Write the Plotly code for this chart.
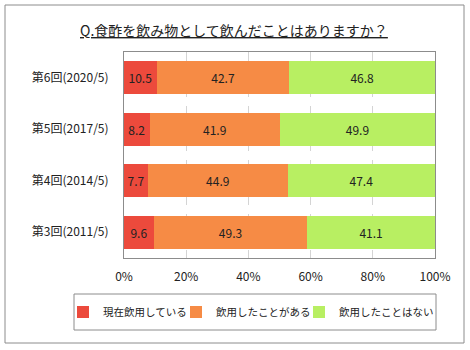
import plotly.graph_objects as go

categories = ["第3回(2011/5)", "第4回(2014/5)", "第5回(2017/5)", "第6回(2020/5)"]
series_names = ["現在飲用している", "飲用したことがある", "飲用したことはない"]
current = [9.6, 7.7, 8.2, 10.5]
past = [49.3, 44.9, 41.9, 42.7]
never = [41.1, 47.4, 49.9, 46.8]
tick_vals = [0, 20, 40, 60, 80, 100]
tick_text = ["0%", "20%", "40%", "60%", "80%", "100%"]
colors = ["#EC4A3C", "#F68B45", "#B8EF62"]

FONT = "Noto Sans CJK JP"
legend_ids = ["legend", "legend2", "legend3"]
legend_left_px = [63, 176, 299]

fig = go.Figure()
for name, vals, col, lid in zip(series_names, [current, past, never], colors, legend_ids):
    fig.add_trace(go.Bar(
        y=categories, x=vals, name=name, orientation="h",
        marker=dict(color=col, line=dict(width=0)),
        text=[f"{v:.1f}" for v in vals], textposition="inside",
        insidetextanchor="middle", constraintext="none",
        textfont=dict(color="#222222", size=12, family=FONT),
        width=0.64, legend=lid,
    ))

L, R, T, B = 124, 35, 52, 92
pw = 470 - L - R
ph = 350 - T - B

def px(x):
    return (x - L) / pw

def py(y):
    return (350 - B - y) / ph

legend_style = dict(orientation="h", xanchor="left", y=py(312), yanchor="middle",
                    font=dict(size=10.5, family=FONT), bgcolor="rgba(0,0,0,0)", itemwidth=30)

fig.update_layout(
    barmode="stack",
    width=470, height=350,
    margin=dict(l=L, r=R, t=T, b=B),
    paper_bgcolor="white", plot_bgcolor="white",
    font=dict(family=FONT, size=12, color="#222222"),
    showlegend=True,
    xaxis=dict(range=[0, 100], tickvals=tick_vals, ticktext=tick_text,
               showgrid=True, gridcolor="#d4d4d4", griddash="dash", gridwidth=1,
               showline=True, linecolor="#8c8c8c", linewidth=1, mirror=True,
               zeroline=False, ticks="", ticklabelstandoff=8,
               tickfont=dict(size=12, family=FONT)),
    yaxis=dict(showline=True, linecolor="#8c8c8c", linewidth=1, mirror=True,
               ticks="", ticklabelstandoff=12, tickfont=dict(size=12, family=FONT)),
    annotations=[dict(
        text="<u>Q.食酢を飲み物として飲んだことはありますか？</u>",
        xref="paper", yref="paper", x=px(234), y=py(30), xanchor="center", yanchor="middle",
        showarrow=False, font=dict(size=14, family=FONT, color="#222222"))],
    shapes=[
        dict(type="rect", xref="paper", yref="paper", x0=px(5), x1=px(464), y0=py(5), y1=py(343),
             line=dict(color="#8c8c8c", width=1), fillcolor="rgba(0,0,0,0)", layer="below"),
        dict(type="rect", xref="paper", yref="paper", x0=px(74), x1=px(436), y0=py(294), y1=py(330),
             line=dict(color="#8c8c8c", width=1), fillcolor="rgba(0,0,0,0)"),
    ],
)
for lid, lx in zip(legend_ids, legend_left_px):
    fig.update_layout({lid: dict(legend_style, x=px(lx))})

fig.write_html("out.html")
